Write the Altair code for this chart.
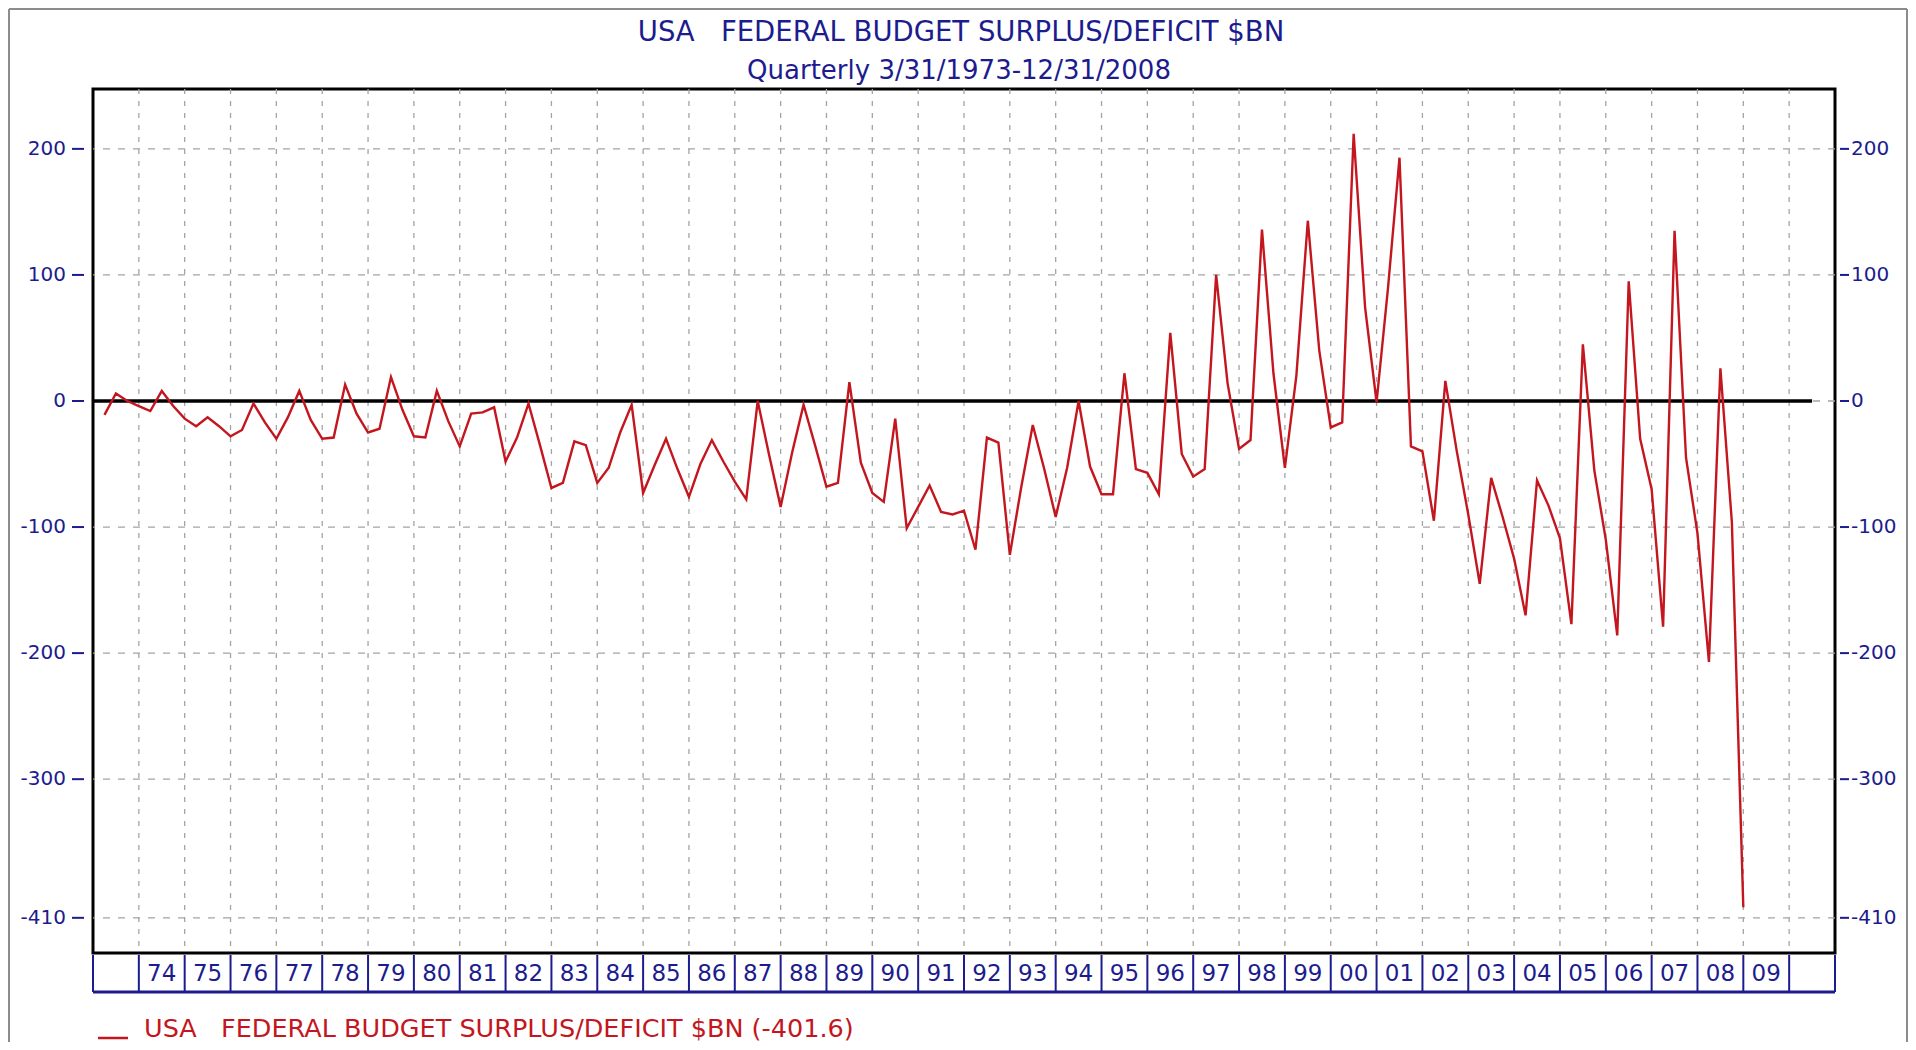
import altair as alt
import pandas as pd

# ---------------- data ----------------
title_text = "USA\u00a0\u00a0\u00a0FEDERAL BUDGET SURPLUS/DEFICIT $BN"
subtitle_text = "Quarterly 3/31/1973-12/31/2008"
legend_text = "USA\u00a0\u00a0\u00a0FEDERAL BUDGET SURPLUS/DEFICIT $BN (-401.6)"

first_year = 1973
# quarterly surplus/deficit, $bn, Q1 1973 ... Q4 2008
deficit = [
    -11, 6, 0, -4, -8, 8, -4, -14, -20, -13, -20, -28,          # 1973-1975
    -23, -2, -17, -30, -13, 8, -15, -30, -29, 13, -10, -25,      # 1976-1978
    -22, 19, -7, -28, -29, 8, -16, -36, -10, -9, -5, -48,        # 1979-1981
    -29, -2, -35, -69, -65, -32, -35, -65, -53, -25, -3, -73,    # 1982-1984
    -51, -30, -54, -76, -50, -31, -48, -64, -78, 0, -43, -84,    # 1985-1987
    -41, -3, -35, -68, -65, 15, -49, -73, -80, -14, -101, -84,   # 1988-1990
    -67, -88, -90, -87, -118, -29, -33, -122, -68, -19, -54, -92,  # 1991-1993
    -53, 0, -52, -74, -74, 22, -54, -57, -74, 54, -42, -60,      # 1994-1996
    -54, 100, 14, -38, -31, 136, 22, -53, 20, 143, 40, -21,      # 1997-1999
    -17, 212, 74, -1, 90, 193, -36, -40, -95, 16, -40, -90,      # 2000-2002
    -145, -61, -92, -125, -170, -63, -83, -109, -177, 45, -55, -110,  # 2003-2005
    -186, 95, -30, -70, -179, 135, -45, -105, -207, 26, -96, -401.6,  # 2006-2008
]

y_ticks = [200, 100, 0, -100, -200, -300, -410]
y_tick_labels = [str(v) for v in y_ticks]
grid_years = list(range(1974, 2011))
box_edges = list(range(1973, 2012))
label_years = list(range(1974, 2010))
year_labels = [f"{y % 100:02d}" for y in label_years]

x_domain = [1973, 2011]
y_domain = [-437.9, 247.5]
zero_line_span = [1973, 2010.5]

# ---------------- styles ----------------
NAVY = "#1c1c8e"
RED = "#c4161e"
GRID = "#a4a4a4"
FONT = "DejaVu Sans"
W, H = 1742, 864

df = pd.DataFrame({
    "t": [first_year + (i + 1) / 4 for i in range(len(deficit))],
    "v": deficit,
})

xs = alt.Scale(domain=x_domain, nice=False, zero=False)
ys = alt.Scale(domain=y_domain, nice=False, zero=False)
X = alt.X("t:Q", scale=xs, axis=None)
Y = alt.Y("v:Q", scale=ys, axis=None)

vgrid = alt.Chart(pd.DataFrame({"t": grid_years})).mark_rule(
    color=GRID, strokeWidth=1.3, strokeDash=[5, 7]
).encode(x=X)

hgrid = alt.Chart(pd.DataFrame({"v": y_ticks})).mark_rule(
    color=GRID, strokeWidth=1.3, strokeDash=[7, 8]
).encode(y=Y)

zero = alt.Chart(pd.DataFrame({"t": [zero_line_span[0]], "t2": [zero_line_span[1]], "v": [0]})).mark_rule(
    color="black", strokeWidth=3.5
).encode(x=X, x2="t2:Q", y=Y)

line = alt.Chart(df).mark_line(color=RED, strokeWidth=2.4).encode(x=X, y=Y)

tick_df = pd.DataFrame({"v": y_ticks, "lab": y_tick_labels})
left_ticks = alt.Chart(tick_df).mark_rule(color=NAVY, strokeWidth=2).encode(
    x=alt.value(-21), x2=alt.value(-9), y=Y
)
left_labels = alt.Chart(tick_df).mark_text(
    color=NAVY, font=FONT, fontSize=20, align="right", baseline="middle"
).encode(x=alt.value(-27), y=Y, text="lab:N")
right_ticks = alt.Chart(tick_df).mark_rule(color=NAVY, strokeWidth=2).encode(
    x=alt.value(W + 5), x2=alt.value(W + 14), y=Y
)
right_labels = alt.Chart(tick_df).mark_text(
    color=NAVY, font=FONT, fontSize=20, align="left", baseline="middle"
).encode(x=alt.value(W + 16), y=Y, text="lab:N")

# year boxes below the plot
box_sep = alt.Chart(pd.DataFrame({"t": box_edges})).mark_rule(color=NAVY, strokeWidth=2).encode(
    x=X, y=alt.value(H + 2), y2=alt.value(H + 39)
)
box_bottom = alt.Chart(pd.DataFrame({"t": [x_domain[0]], "t2": [x_domain[1]]})).mark_rule(
    color=NAVY, strokeWidth=3
).encode(x=X, x2="t2:Q", y=alt.value(H + 39))
year_text = alt.Chart(pd.DataFrame({"t": [y + 0.5 for y in label_years], "lab": year_labels})).mark_text(
    color=NAVY, font=FONT, fontSize=23, baseline="middle", align="center"
).encode(x=X, y=alt.value(H + 21), text="lab:N")

# titles
title = alt.Chart(pd.DataFrame({"txt": [title_text]})).mark_text(
    color=NAVY, font=FONT, fontSize=27.5, align="center", baseline="alphabetic"
).encode(x=alt.value(W / 2 - 3), y=alt.value(-48), text="txt:N")
subtitle = alt.Chart(pd.DataFrame({"txt": [subtitle_text]})).mark_text(
    color=NAVY, font=FONT, fontSize=26, align="center", baseline="alphabetic"
).encode(x=alt.value(W / 2 - 5), y=alt.value(-10), text="txt:N")

# legend
legend_line = alt.Chart(pd.DataFrame({"a": [0]})).mark_rule(color=RED, strokeWidth=2.5).encode(
    x=alt.value(5), x2=alt.value(35), y=alt.value(H + 85)
)
legend_txt = alt.Chart(pd.DataFrame({"txt": [legend_text]})).mark_text(
    color=RED, font=FONT, fontSize=25.5, align="left", baseline="alphabetic"
).encode(x=alt.value(51), y=alt.value(H + 84), text="txt:N")

# outer gray frame
frame_l = alt.Chart(pd.DataFrame({"a": [0]})).mark_rule(color="#8c8c8c", strokeWidth=2).encode(
    x=alt.value(-84), y=alt.value(-80), y2=alt.value(H + 89)
)
frame_r = alt.Chart(pd.DataFrame({"a": [0]})).mark_rule(color="#8c8c8c", strokeWidth=2).encode(
    x=alt.value(W + 72), y=alt.value(-80), y2=alt.value(H + 89)
)
frame_t = alt.Chart(pd.DataFrame({"a": [0]})).mark_rule(color="#8c8c8c", strokeWidth=2).encode(
    x=alt.value(-84), x2=alt.value(W + 72), y=alt.value(-80)
)

chart = alt.layer(
    vgrid, hgrid, zero, line, left_ticks, left_labels, right_ticks, right_labels,
    box_sep, box_bottom, year_text, title, subtitle,
    legend_line, legend_txt, frame_l, frame_r, frame_t,
).properties(
    width=W, height=H,
    padding={"left": 85, "top": 81, "right": 73, "bottom": 89},
    autosize=alt.AutoSizeParams(type="none"),
    background="white",
).configure_view(stroke="black", strokeWidth=3)

chart.save("out.html", embed_options={"renderer": "svg", "actions": False})
